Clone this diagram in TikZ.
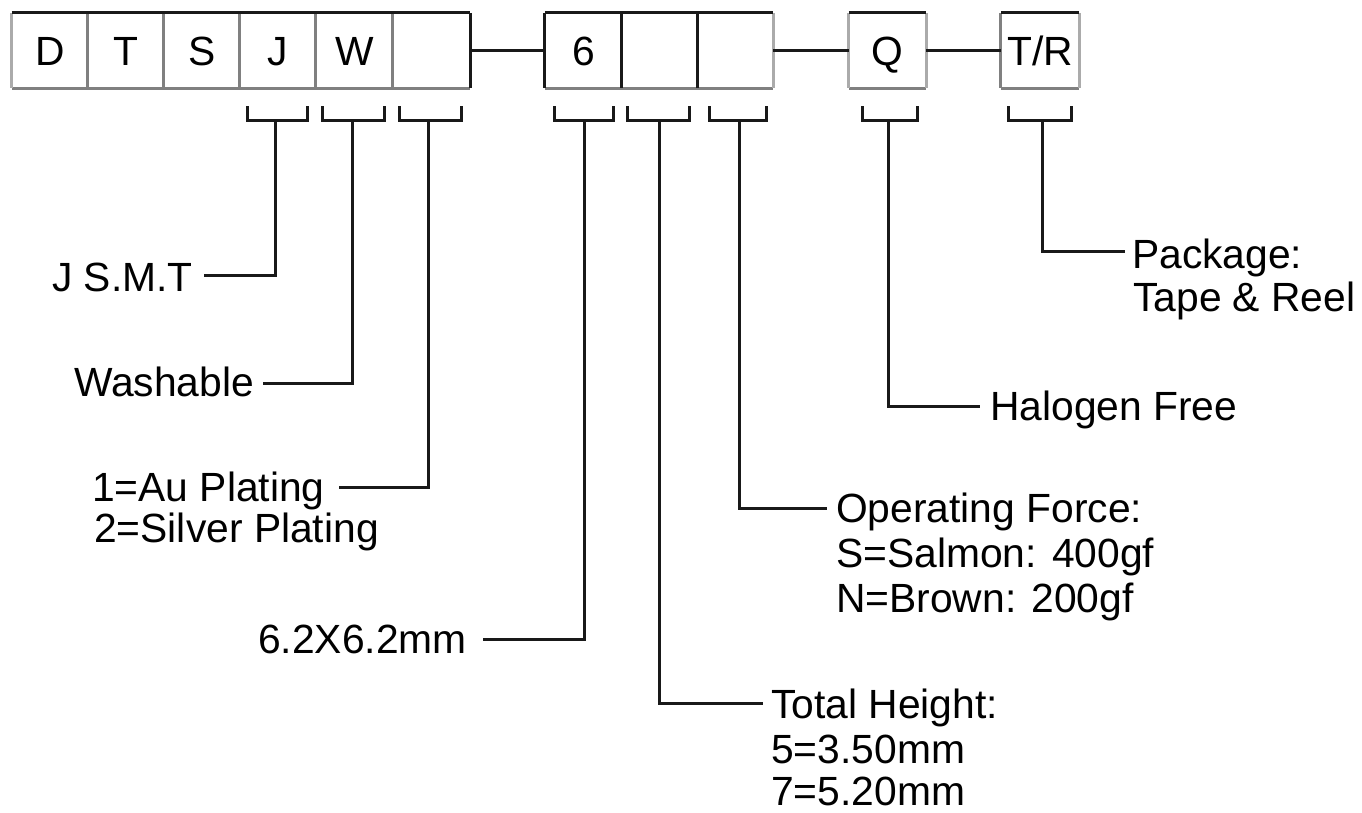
\documentclass[tikz,border=0pt]{standalone}
\usepackage{fontspec}
\setmainfont{Liberation Sans}
\begin{document}
\begin{tikzpicture}[x=1pt,y=-1pt,
  lbl/.style={anchor=base west,inner sep=0pt,font=\fontsize{40.8}{48}\selectfont},
  cell/.style={inner sep=0pt,minimum height=75pt,font=\fontsize{40.8}{48}\selectfont,text height=29pt,text depth=0pt},
  ln/.style={line width=3pt,draw=black!90},
  edgedark/.style={line width=3.2pt,draw=black!90},
  edgegray/.style={line width=3.2pt,draw=black!50},
  edgelight/.style={line width=3.2pt,draw=black!33},
  brk/.style={line width=3pt,draw=black!90}]
\useasboundingbox (0,0) rectangle (1362,812);
\fill[white] (0,0) rectangle (1362,812);

% ---------- boxes ----------
\node[cell,minimum width=76pt] (b1) at (50,50.5) {D};
\node[cell,minimum width=76pt] (b2) at (126,50.5) {T};
\node[cell,minimum width=76pt] (b3) at (202,50.5) {S};
\node[cell,minimum width=76pt] (b4) at (278,50.5) {J};
\node[cell,minimum width=77pt] (b5) at (354.5,50.5) {W};
\node[cell,minimum width=77pt] (b6) at (431.5,50.5) {};
\node[cell,minimum width=77pt] (c1) at (583.5,50.5) {6};
\node[cell,minimum width=76pt] (c2) at (660,50.5) {};
\node[cell,minimum width=75pt] (c3) at (735.5,50.5) {};
\node[cell,minimum width=77pt] (q)  at (887.5,50.5) {Q};
\node[cell,minimum width=78pt] (tr) at (1040,50.5) {T/R};

% group 1 borders
\draw[edgegray] (b1.south west) -- (b6.south east);
\draw[edgelight] (b1.north west) -- (b1.south west);
\draw[edgegray] (b2.north west) -- (b2.south west);
\draw[edgegray] (b3.north west) -- (b3.south west);
\draw[edgegray] (b4.north west) -- (b4.south west);
\draw[edgegray] (b5.north west) -- (b5.south west);
\draw[edgegray] (b6.north west) -- (b6.south west);
\draw[edgedark] (b6.north east) -- (b6.south east);
\draw[edgedark] (b1.north west) -- (b6.north east);
% group 2 borders
\draw[edgegray] (c1.south west) -- (c3.south east);
\draw[edgelight] (c3.north east) -- (c3.south east);
\draw[edgedark] (c1.north west) -- (c1.south west);
\draw[edgedark] (c2.north west) -- (c2.south west);
\draw[edgedark] (c3.north west) -- (c3.south west);
\draw[edgedark] (c1.north west) -- (c3.north east);
% Q borders
\draw[edgegray] (q.south west) -- (q.south east);
\draw[edgelight] (q.north west) -- (q.south west);
\draw[edgelight] (q.north east) -- (q.south east);
\draw[edgedark] (q.north west) -- (q.north east);
% T/R borders
\draw[edgegray] (tr.south west) -- (tr.south east);
\draw[edgegray] (tr.north west) -- (tr.south west);
\draw[edgelight] (tr.north east) -- (tr.south east);
\draw[edgedark] (tr.north west) -- (tr.north east);

% dashes between groups
\draw[ln] (b6.east) -- (c1.west);
\draw[ln] (c3.east) -- (q.west);
\draw[ln] (q.east) -- (tr.west);

% ---------- brackets ----------
\draw[brk] (247,106) -- (247,120) -- (307,120) -- (307,106);
\draw[brk] (322,106) -- (322,120) -- (384,120) -- (384,106);
\draw[brk] (399,106) -- (399,120) -- (461,120) -- (461,106);
\draw[brk] (554,106) -- (554,120) -- (613,120) -- (613,106);
\draw[brk] (627,106) -- (627,120) -- (689,120) -- (689,106);
\draw[brk] (709,106) -- (709,120) -- (766,120) -- (766,106);
\draw[brk] (862,106) -- (862,120) -- (917,120) -- (917,106);
\draw[brk] (1008,106) -- (1008,120) -- (1071,120) -- (1071,106);

\coordinate (sJ) at (275,120);
\coordinate (sW) at (352,120);
\coordinate (sE) at (428,120);
\coordinate (s6) at (584,120);
\coordinate (sH) at (659,120);
\coordinate (sF) at (739,120);
\coordinate (sQ) at (888,120);
\coordinate (sT) at (1042,120);

\coordinate (eJ) at (204,275);
\coordinate (eW) at (263,383);
\coordinate (eE) at (339,487);
\coordinate (e6) at (483,639);
\coordinate (eH) at (763,703);
\coordinate (eF) at (827,508);
\coordinate (eQ) at (980,406);
\coordinate (eT) at (1125,251);

\draw[ln] (sJ) |- (eJ);
\draw[ln] (sW) |- (eW);
\draw[ln] (sE) |- (eE);
\draw[ln] (s6) |- (e6);
\draw[ln] (sH) |- (eH);
\draw[ln] (sF) |- (eF);
\draw[ln] (sQ) |- (eQ);
\draw[ln] (sT) |- (eT);

% ---------- labels ----------
\node[lbl] (lJ) at (52,291) {J S.M.T};
\node[lbl] (lW) at (74,396) {Washable};
\node[lbl] (lE1) at (92,501) {1=Au Plating};
\node[lbl] (lE2) at (94,542) {2=Silver Plating};
\node[lbl] (l6) at (258,653) {6.2X6.2mm};
\node[lbl] (lH1) at (771,718) {Total Height:};
\node[lbl] (lH2) at (771,763) {5=3.50mm};
\node[lbl] (lH3) at (771,805) {7=5.20mm};
\node[lbl] (lF1) at (836,522) {Operating Force:};
\node[lbl] (lF2) at (836,567) {S=Salmon: 400gf};
\node[lbl] (lF3) at (836,612) {N=Brown: 200gf};
\node[lbl] (lQ) at (990,420) {Halogen Free};
\node[lbl] (lT1) at (1132,268) {Package:};
\node[lbl] (lT2) at (1133,311) {Tape \& Reel};
\end{tikzpicture}
\end{document}
